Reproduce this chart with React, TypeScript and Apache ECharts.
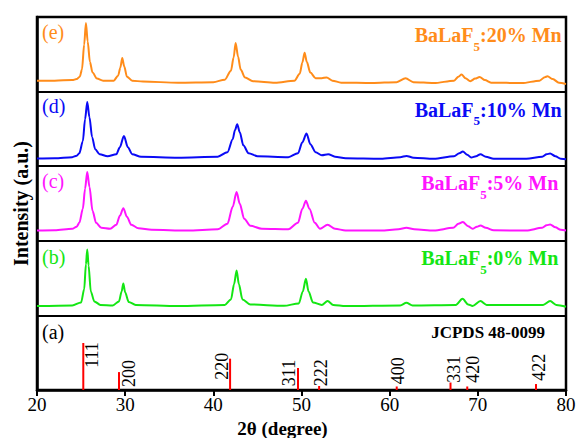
import React, { useEffect, useRef } from "react";
import * as echarts from "echarts";

const FONT = "Liberation Serif, Times New Roman, serif";

// ---- data (2θ in degrees, intensity in panel-relative a.u.) ----
const panelTags = ["(e)", "(d)", "(c)", "(b)", "(a)"];
const dopingLabels = [":20% Mn", ":10% Mn", ":5% Mn", ":0% Mn"];
const referenceCard = "JCPDS 48-0099";

const pattern20Mn: [number, number][] = [
  [20, 0.147], [22, 0.147], [24, 0.154], [24.5, 0.168], [24.85, 0.2], [25.1, 0.295], [25.35, 0.63],
  [25.55, 0.92], [25.75, 0.67], [26.0, 0.40], [26.3, 0.255], [26.8, 0.174], [27.5, 0.147],
  [28.7, 0.147], [29.2, 0.214], [29.45, 0.32], [29.67, 0.45], [29.9, 0.335], [30.2, 0.2],
  [30.8, 0.147], [32, 0.134], [36, 0.12], [40, 0.127], [41.3, 0.16], [42.0, 0.28],
  [42.3, 0.456], [42.53, 0.653], [42.8, 0.47], [43.1, 0.295], [43.6, 0.188], [44.5, 0.14],
  [47, 0.12], [49.2, 0.147], [49.8, 0.24], [50.1, 0.39], [50.35, 0.52], [50.6, 0.40],
  [51.0, 0.255], [51.6, 0.18], [52.3, 0.18], [52.85, 0.19], [53.5, 0.147], [54.5, 0.12],
  [58, 0.114], [60.8, 0.127], [61.8, 0.178], [62.7, 0.127], [65, 0.114], [67.3, 0.147],
  [67.8, 0.2], [68.15, 0.228], [68.6, 0.18], [69.15, 0.14], [69.7, 0.174], [70.2, 0.197],
  [70.8, 0.154], [71.5, 0.12], [75, 0.114], [77.0, 0.147], [77.6, 0.194], [77.9, 0.205],
  [78.5, 0.168], [79.2, 0.12], [80, 0.103],
];

const pattern10Mn: [number, number][] = [
  [20, 0.103], [22, 0.107], [24, 0.121], [24.5, 0.14], [24.8, 0.174], [25.2, 0.335], [25.45, 0.63],
  [25.7, 0.862], [25.95, 0.657], [26.25, 0.389], [26.6, 0.228], [27.1, 0.161], [28.0, 0.134],
  [29.0, 0.161], [29.4, 0.255], [29.86, 0.406], [30.3, 0.255], [30.8, 0.161], [31.8, 0.127],
  [36, 0.114], [40.5, 0.127], [41.6, 0.188], [42.2, 0.362], [42.45, 0.483], [42.71, 0.563],
  [43.0, 0.456], [43.4, 0.281], [44.0, 0.174], [45, 0.134], [48.5, 0.121], [49.6, 0.174],
  [50.1, 0.322], [50.57, 0.438], [51.0, 0.295], [51.6, 0.188], [52.3, 0.147], [53.03, 0.161],
  [53.8, 0.127], [55, 0.107], [59, 0.1], [61.2, 0.121], [61.9, 0.138], [62.7, 0.114],
  [65, 0.1], [67.3, 0.134], [67.9, 0.174], [68.3, 0.197], [68.8, 0.154], [69.25, 0.117],
  [69.8, 0.134], [70.3, 0.161], [70.9, 0.127], [71.8, 0.1], [75.5, 0.1], [77.3, 0.127],
  [77.8, 0.161], [78.2, 0.17], [78.8, 0.134], [79.4, 0.1], [80, 0.094],
];

const pattern5Mn: [number, number][] = [
  [20, 0.138], [22, 0.141], [24, 0.161], [24.5, 0.19], [24.8, 0.241], [25.2, 0.429], [25.45, 0.697],
  [25.7, 0.921], [25.95, 0.724], [26.3, 0.402], [26.7, 0.241], [27.3, 0.174], [28.3, 0.161],
  [29.0, 0.214], [29.4, 0.335], [29.79, 0.438], [30.2, 0.322], [30.7, 0.214], [31.5, 0.168],
  [33, 0.147], [37, 0.138], [40.5, 0.154], [41.6, 0.228], [42.2, 0.456], [42.64, 0.653],
  [43.0, 0.496], [43.5, 0.295], [44.2, 0.201], [45.5, 0.161], [48.5, 0.154], [49.6, 0.241],
  [50.1, 0.429], [50.5, 0.536], [50.9, 0.429], [51.5, 0.241], [52.1, 0.161], [52.96, 0.214],
  [53.8, 0.161], [55, 0.138], [59, 0.138], [61.0, 0.154], [61.9, 0.174], [62.8, 0.154],
  [65, 0.138], [67.2, 0.174], [67.8, 0.228], [68.3, 0.251], [68.9, 0.194], [69.4, 0.161],
  [69.9, 0.188], [70.3, 0.205], [70.9, 0.174], [71.8, 0.141], [75.5, 0.138], [77.3, 0.174],
  [77.8, 0.208], [78.2, 0.218], [78.8, 0.181], [79.4, 0.147], [80, 0.138],
];

const pattern0Mn: [number, number][] = [
  [20, 0.125], [24, 0.134], [25.0, 0.174], [25.35, 0.349], [25.55, 0.684], [25.7, 0.885],
  [25.85, 0.67], [26.1, 0.322], [26.5, 0.188], [27.2, 0.141], [28.6, 0.134], [29.3, 0.188],
  [29.6, 0.322], [29.79, 0.429], [30.0, 0.308], [30.4, 0.181], [31.2, 0.141], [36, 0.125],
  [41.3, 0.141], [42.0, 0.214], [42.35, 0.416], [42.64, 0.603], [42.9, 0.416], [43.3, 0.214],
  [44.2, 0.147], [48, 0.128], [49.7, 0.161], [50.15, 0.322], [50.5, 0.492], [50.8, 0.322],
  [51.3, 0.174], [52.3, 0.141], [52.96, 0.192], [53.6, 0.141], [55, 0.125], [61.2, 0.134],
  [61.9, 0.17], [62.6, 0.134], [67.5, 0.141], [68.26, 0.224], [68.9, 0.147], [69.4, 0.127],
  [70.3, 0.192], [71.0, 0.141], [77.4, 0.141], [78.2, 0.192], [78.9, 0.141], [80, 0.117],
];

const hklLabels = ["111", "200", "220", "311", "222", "400", "331", "420", "422"];
const refPositions = [25.25, 29.3, 41.9, 49.6, 52.0, 60.8, 66.9, 68.8, 76.6];
const refIntensities = [0.63, 0.24, 0.42, 0.295, 0.054, 0.047, 0.1, 0.047, 0.08];

// ---- presentation ----
const COLORS = ["#FF8C1A", "#0A0AF5", "#FF14FF", "#14E614"];
const PANEL_OFFSETS = [4, 3, 2, 1];
// label centre offset (px) from the foot of each reference line
const HKL_OFFSETS: [number, number][] = [
  [8.4, -35], [10.2, -16.5], [-7.8, -23.7], [-9.1, -17], [2.3, -17.3],
  [0.8, -19.2], [3.2, -20.8], [6.1, -20.8], [3.2, -22.7],
];

export default function App() {
  const ref = useRef<HTMLDivElement>(null);

  useEffect(() => {
    if (!ref.current) return;
    const chart = echarts.init(ref.current, undefined, { renderer: "svg" });
    const patterns = [pattern20Mn, pattern10Mn, pattern5Mn, pattern0Mn];

    const lineSeries = patterns.map((p, i) => ({
      type: "line",
      data: p.map(([x, y]) => [x, y + PANEL_OFFSETS[i]]),
      showSymbol: false,
      symbol: "none",
      smooth: 0.3,
      smoothMonotone: "x",
      lineStyle: { color: COLORS[i], width: 2 },
      itemStyle: { color: COLORS[i] },
      z: 3,
    }));

    const refSeries = {
      type: "custom",
      data: refPositions.map((x, i) => [x, refIntensities[i], i]),
      renderItem: (_params: any, api: any) => {
        const i = api.value(2);
        const base = api.coord([api.value(0), 0]);
        const top = api.coord([api.value(0), api.value(1)]);
        return {
          type: "group",
          children: [
            {
              type: "line",
              shape: { x1: base[0], y1: base[1], x2: top[0], y2: top[1] },
              style: { stroke: "#FF0000", lineWidth: 2 },
            },
            {
              type: "text",
              x: base[0] + HKL_OFFSETS[i][0],
              y: base[1] + HKL_OFFSETS[i][1],
              rotation: Math.PI / 2,
              style: {
                text: hklLabels[i],
                fontFamily: FONT,
                fontSize: 18,
                fill: "#000",
                align: "center",
                verticalAlign: "middle",
              },
            },
          ],
        };
      },
      z: 4,
    };

    const tagY = [32, 106, 181, 257, 332];
    const tagColors = [...COLORS, "#000"];
    const nameY = [35, 109.7, 183.3, 258.3];
    const nameX = [561.7, 561.7, 558.3, 558.3];

    const graphics: any[] = [];
    panelTags.forEach((t, i) => {
      graphics.push({
        type: "text",
        x: 42,
        y: tagY[i],
        z: 10,
        style: {
          text: t,
          fontFamily: FONT,
          fontSize: 20,
          fill: tagColors[i],
          align: "left",
          verticalAlign: "middle",
        },
      });
    });
    dopingLabels.forEach((t, i) => {
      const c = COLORS[i];
      graphics.push({
        type: "text",
        x: nameX[i],
        y: nameY[i],
        z: 10,
        style: {
          text: `{b|BaLaF}{s|5}{b|${t}}`,
          align: "right",
          verticalAlign: "middle",
          fill: c,
          rich: {
            b: { fontFamily: FONT, fontSize: 20, fontWeight: "bold", fill: c },
            s: {
              fontFamily: FONT,
              fontSize: 13,
              fontWeight: "bold",
              fill: c,
              padding: [22, 0, 0, 0],
            },
          },
        },
      });
    });
    graphics.push({
      type: "text",
      x: 545,
      y: 332,
      z: 10,
      style: {
        text: referenceCard,
        fontFamily: FONT,
        fontSize: 17,
        fontWeight: "bold",
        fill: "#000",
        align: "right",
        verticalAlign: "middle",
      },
    });

    chart.setOption({
      animation: false,
      backgroundColor: "#fff",
      textStyle: { fontFamily: FONT },
      grid: {
        left: 37,
        right: 10,
        top: 17,
        bottom: 48,
        containLabel: false,
        outerBoundsMode: "none",
        show: true,
        borderColor: "#000",
        borderWidth: 2.5,
        backgroundColor: "transparent",
      },
      xAxis: {
        type: "value",
        min: 20,
        max: 80,
        interval: 10,
        name: "2θ (degree)",
        nameLocation: "middle",
        nameGap: 24,
        nameTextStyle: {
          fontFamily: FONT,
          fontSize: 19,
          fontWeight: "bold",
          color: "#000",
          lineHeight: 20,
          padding: [0, 38, 0, 0],
        },
        axisLine: { show: true, lineStyle: { color: "#000", width: 2.5 } },
        axisTick: { show: true, inside: false, length: 6, lineStyle: { color: "#000", width: 2 } },
        axisLabel: { fontFamily: FONT, fontSize: 19, color: "#000", margin: 5 },
        splitLine: { show: false },
      },
      yAxis: {
        type: "value",
        min: 0,
        max: 5,
        interval: 1,
        name: "Intensity (a.u.)",
        nameLocation: "middle",
        nameGap: 6,
        nameTextStyle: {
          fontFamily: FONT,
          fontSize: 20,
          fontWeight: "bold",
          color: "#000",
        },
        axisLine: { show: true, lineStyle: { color: "#000", width: 2.5 } },
        axisTick: { show: false },
        axisLabel: { show: false },
        splitLine: { show: true, lineStyle: { color: "#000", width: 2 } },
      },
      series: [...lineSeries, refSeries],
      graphic: graphics,
    });

    return () => chart.dispose();
  }, []);

  return (
    <div
      ref={ref}
      style={{ position: "fixed", left: 0, top: 0, width: 576, height: 438, background: "#fff" }}
    />
  );
}
